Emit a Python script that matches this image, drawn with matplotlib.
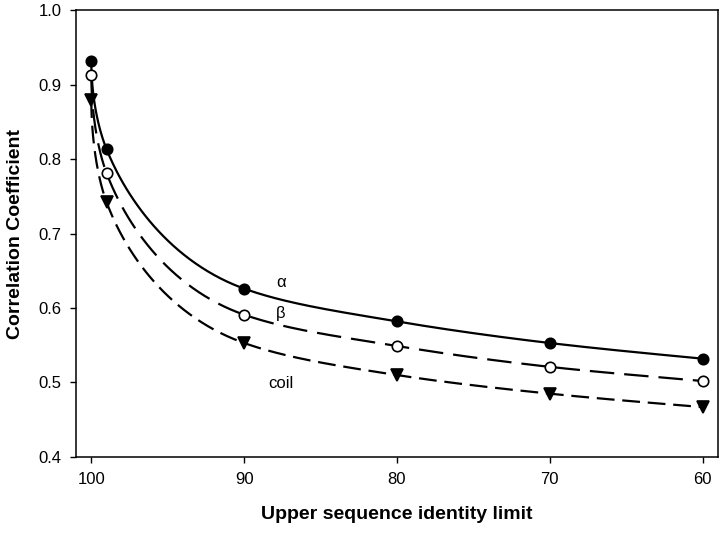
import numpy as np
import matplotlib
matplotlib.use("Agg")
import matplotlib.pyplot as plt

plt.rcParams['font.family'] = ['Liberation Sans', 'DejaVu Sans']

# upper sequence identity limit (%)
identity = [100, 99, 90, 80, 70, 60]

# correlation coefficients
alpha_r = [0.931, 0.813, 0.626, 0.582, 0.553, 0.532]
beta_r = [0.913, 0.781, 0.591, 0.549, 0.521, 0.502]
coil_r = [0.879, 0.742, 0.553, 0.510, 0.485, 0.467]

series_labels = ['\u03b1', '\u03b2', 'coil']


def pchip_slopes(t, y):
    h = np.diff(t)
    delta = np.diff(y) / h
    m = np.zeros_like(y)
    for k in range(1, len(y) - 1):
        if delta[k - 1] * delta[k] > 0:
            w1 = 2 * h[k] + h[k - 1]
            w2 = h[k] + 2 * h[k - 1]
            m[k] = (w1 + w2) / (w1 / delta[k - 1] + w2 / delta[k])
    m[0] = delta[0]
    m[-1] = delta[-1]
    return m


def smooth_curve(x, y):
    """smooth line through the points, drawn in sqrt(100 - x) space"""
    t = np.sqrt(100.0 - np.asarray(x, float))
    y = np.asarray(y, float)
    m = pchip_slopes(t, y)
    tt, yy = [], []
    for k in range(len(t) - 1):
        s = np.linspace(0, 1, 60)
        h = t[k + 1] - t[k]
        h00 = 2 * s**3 - 3 * s**2 + 1
        h10 = s**3 - 2 * s**2 + s
        h01 = -2 * s**3 + 3 * s**2
        h11 = s**3 - s**2
        tt.append(t[k] + s * h)
        yy.append(h00 * y[k] + h10 * h * m[k] + h01 * y[k + 1] + h11 * h * m[k + 1])
    tt = np.concatenate(tt)
    return 100.0 - tt**2, np.concatenate(yy)


fig = plt.figure(figsize=(7.2, 5.33), dpi=100)
ax = fig.add_axes([0.1056, 0.1426, 0.8914, 0.8386])

styles = [
    dict(dashes=None, marker='o', mfc='black'),
    dict(dashes=(11, 4.5), marker='o', mfc='white'),
    dict(dashes=(8, 3.5), marker='v', mfc='black'),
]

for y, st in zip([alpha_r, beta_r, coil_r], styles):
    cx, cy = smooth_curve(identity, y)
    kw = dict(color='black', lw=1.6)
    if st['dashes'] is not None:
        kw['dashes'] = st['dashes']
    ax.plot(cx, cy, **kw)
    ax.plot(identity, y, ls='none', marker=st['marker'], ms=7.5 if st['marker'] == 'o' else 8,
            mfc=st['mfc'], mec='black', mew=1.2, zorder=5)

# curve labels
ax.text(87.6, 0.634, series_labels[0], fontsize=12, ha='center', va='center')
ax.text(87.6, 0.592, series_labels[1], fontsize=12, ha='center', va='center')
ax.text(87.6, 0.498, series_labels[2], fontsize=12, ha='center', va='center')

ax.set_xlim(101, 59)
ax.set_ylim(0.4, 1.0)
ax.set_xticks([100, 90, 80, 70, 60])
ax.set_yticks([0.4, 0.5, 0.6, 0.7, 0.8, 0.9, 1.0])
ax.set_yticklabels(['0.4', '0.5', '0.6', '0.7', '0.8', '0.9', '1.0'])
ax.tick_params(direction='out', length=4.5, width=1, labelsize=12, pad=6)
for s in ax.spines.values():
    s.set_linewidth(1.1)

ax.set_xlabel('Upper sequence identity limit', fontsize=14, fontweight='bold', labelpad=14)
ax.set_ylabel('Correlation Coefficient', fontsize=14, fontweight='bold', labelpad=10)

fig.savefig('out.png', dpi=100)
